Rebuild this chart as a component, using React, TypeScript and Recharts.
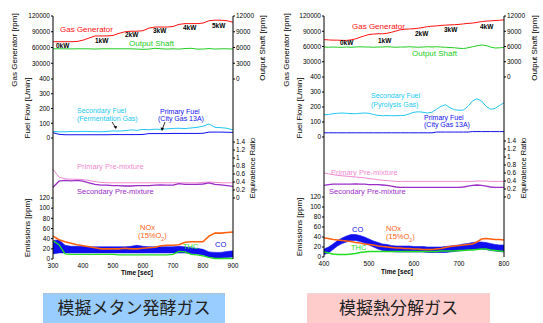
import React from 'react';
import { ComposedChart, Line, Area, XAxis, YAxis } from 'recharts';

const FONT = '"Liberation Sans", Arial, sans-serif';

// 模擬メタン発酵ガス (left column), time step 20 s
const timeA = [300, 320, 340, 360, 380, 400, 420, 440, 460, 480, 500, 520, 540, 560, 580, 600, 620, 640, 660, 680, 700, 720, 740, 760, 780, 800, 820, 840, 860, 880, 900];
const gasGenA = [71000, 71000, 71000, 71000, 71500, 74000, 78000, 82000, 82000, 82000, 83000, 87000, 90000, 91000, 91000, 92000, 97000, 99000, 99000, 99000, 100000, 104000, 105500, 105500, 105500, 106500, 111000, 112000, 112000, 111000, 108000];
const shaftA = [5750, 5750, 5750, 5730, 5750, 5750, 5750, 5700, 5750, 5750, 5750, 5750, 5750, 5750, 5700, 5650, 5700, 5850, 5750, 5700, 5750, 5700, 5800, 5850, 5700, 5700, 5800, 5700, 5750, 5750, 5700];
const secFuelA = [45, 42, 42, 44, 43, 45, 44, 43, 42, 45, 48, 47, 50, 55, 52, 58, 56, 60, 58, 62, 65, 66, 64, 68, 72, 80, 95, 72, 70, 66, 55];
const priFuelA = [36, 25, 22, 22, 22, 22, 22, 22, 22, 22, 23, 23, 23, 23, 23, 24, 30, 30, 30, 30, 31, 31, 31, 31, 31, 32, 40, 40, 40, 39, 38];
const priMixA = [0.72, 0.52, 0.48, 0.47, 0.47, 0.46, 0.44, 0.41, 0.39, 0.38, 0.38, 0.38, 0.38, 0.38, 0.38, 0.38, 0.38, 0.38, 0.38, 0.38, 0.38, 0.38, 0.38, 0.38, 0.38, 0.39, 0.4, 0.39, 0.38, 0.38, 0.38];
const secMixA = [0.27, 0.42, 0.44, 0.43, 0.44, 0.42, 0.38, 0.34, 0.32, 0.32, 0.31, 0.31, 0.3, 0.3, 0.31, 0.31, 0.31, 0.32, 0.33, 0.32, 0.32, 0.36, 0.34, 0.34, 0.34, 0.35, 0.38, 0.34, 0.33, 0.31, 0.29];
const noxA = [45, 38, 34, 31, 28, 26, 24, 22, 20, 20, 20, 20, 21, 20, 20, 21, 22, 23, 26, 27, 27, 28, 33, 34, 34, 34, 45, 51, 51, 52, 53];
const coLoA = [10, 12, 12, 12, 12, 12, 12, 12, 12, 12, 12, 12, 12, 12, 12, 12, 12, 12, 12, 12, 12, 12, 12, 11, 10, 8, 3, 2, 2, 3, 4];
const coHiA = [36, 38, 27, 25, 25, 25, 24, 24, 24, 24, 24, 24, 24, 25, 27, 25, 24, 24, 24, 24, 24, 25, 24, 22, 21, 19, 14, 13, 13, 15, 16];
const thcA = [36, 28, 10, 9, 9, 9, 9, 9, 9, 9, 9, 8, 8, 8, 8, 8, 8, 8, 8, 8, 9, 15, 14, 9, 8, 6, 3, 1, 1, 1, 1];

// 模擬熱分解ガス (right column), time step 10 s
const timeB = [400, 410, 420, 430, 440, 450, 460, 470, 480, 490, 500, 510, 520, 530, 540, 550, 560, 570, 580, 590, 600, 610, 620, 630, 640, 650, 660, 670, 680, 690, 700, 710, 720, 730, 740, 750, 760, 770, 780, 790, 800];
const gasGenB = [73500, 73000, 72500, 72500, 72000, 72000, 73000, 75000, 78000, 81000, 83500, 84500, 85000, 85000, 86000, 88000, 90500, 93000, 94000, 94500, 95000, 96000, 97500, 99000, 100000, 100500, 101500, 102000, 102500, 103000, 103500, 104500, 105500, 106000, 107500, 109000, 110000, 110500, 111000, 111500, 112500];
const shaftB = [5900, 5850, 5900, 5850, 5850, 5900, 5850, 5900, 5950, 5900, 5900, 5850, 5900, 5900, 5950, 5900, 5850, 5900, 5900, 5950, 5900, 5850, 5900, 5950, 5900, 5950, 5900, 5850, 5800, 5750, 5650, 5600, 5750, 5950, 6150, 6300, 6200, 5900, 5700, 5750, 5800];
const secFuelB = [148, 150, 155, 158, 160, 158, 156, 155, 158, 160, 158, 150, 144, 142, 143, 142, 142, 143, 145, 155, 165, 168, 165, 160, 165, 185, 205, 215, 195, 182, 178, 180, 205, 240, 255, 240, 205, 185, 190, 210, 228];
const priFuelB = [28, 28, 28, 28, 28, 28, 28, 28, 28, 28, 28, 28, 28, 28, 28, 28, 28, 28, 28, 28, 28, 28, 28, 28, 28, 33, 33, 33, 33, 33, 33, 33, 33, 36, 36, 36, 36, 36, 36, 36, 36];
const priMixB = [0.6, 0.58, 0.56, 0.54, 0.53, 0.52, 0.51, 0.5, 0.49, 0.48, 0.46, 0.45, 0.43, 0.42, 0.41, 0.4, 0.39, 0.39, 0.39, 0.39, 0.39, 0.39, 0.39, 0.39, 0.39, 0.39, 0.39, 0.39, 0.39, 0.39, 0.39, 0.39, 0.39, 0.39, 0.4, 0.4, 0.4, 0.39, 0.39, 0.39, 0.39];
const secMixB = [0.29, 0.31, 0.32, 0.32, 0.32, 0.32, 0.32, 0.33, 0.32, 0.32, 0.31, 0.31, 0.31, 0.3, 0.29, 0.27, 0.25, 0.24, 0.24, 0.24, 0.24, 0.24, 0.24, 0.24, 0.24, 0.24, 0.24, 0.24, 0.24, 0.24, 0.24, 0.25, 0.27, 0.29, 0.3, 0.29, 0.27, 0.25, 0.24, 0.24, 0.24];
const noxB = [38, 37, 35, 34, 33, 32, 31, 29, 28, 26, 25, 24, 22, 21, 20, 19, 18, 18, 17, 17, 16, 16, 15, 15, 15, 16, 17, 19, 21, 22, 23, 24, 25, 26, 30, 36, 37, 36, 35, 35, 34];
const coLoB = [5, 8, 15, 22, 27, 30, 33, 33, 31, 28, 24, 20, 16, 13, 12, 11, 10, 10, 10, 10, 10, 10, 10, 9, 9, 9, 9, 9, 10, 11, 12, 13, 14, 15, 16, 16, 15, 13, 12, 11, 10];
const coHiB = [16, 20, 26, 33, 38, 42, 45, 45, 43, 40, 36, 32, 29, 26, 25, 23, 22, 22, 22, 22, 21, 21, 21, 20, 20, 20, 20, 21, 22, 23, 24, 26, 27, 29, 30, 30, 29, 27, 25, 24, 24];
const thcB = [10, 8, 6, 5, 5, 5, 6, 7, 9, 10, 11, 11, 11, 11, 11, 11, 11, 11, 11, 11, 11, 11, 11, 11, 11, 11, 12, 12, 12, 12, 13, 13, 14, 14, 15, 16, 16, 14, 13, 12, 11];

// axis ticks
const ticksTimeA = [300, 400, 500, 600, 700, 800, 900];
const minorTimeA = [350, 450, 550, 650, 750, 850];
const ticksTimeB = [400, 500, 600, 700, 800];
const minorTimeB = [450, 550, 650, 750];
const ticksGasGen = [30000, 60000, 90000, 120000];
const ticksShaft = [0, 3000, 6000, 9000, 12000];
const ticksFuel = [0, 100, 200, 300, 400];
const ticksPhi = [0, 0.2, 0.4, 0.6, 0.8, 1, 1.2, 1.4];
const minorPhi = [0.1, 0.3, 0.5, 0.7, 0.9, 1.1, 1.3];
const ticksEm = [0, 20, 40, 60, 80, 100, 120];

const rowsA = timeA.map((t, i) => ({
  t, gg: gasGenA[i], os: shaftA[i], sf: secFuelA[i], pf: priFuelA[i],
  pm: priMixA[i], sm: secMixA[i], nox: noxA[i], co: [coLoA[i], coHiA[i]], thc: thcA[i],
}));
const rowsB = timeB.map((t, i) => ({
  t, gg: gasGenB[i], os: shaftB[i], sf: secFuelB[i], pf: priFuelB[i],
  pm: priMixB[i], sm: secMixB[i], nox: noxB[i], co: [coLoB[i], coHiB[i]], thc: thcB[i],
}));

const C = {
  red: '#ff1010',
  green: '#22cc22',
  cyan: '#22c8f0',
  blue: '#1010ee',
  pink: '#f08ad0',
  purple: '#9a2cc8',
  orange: '#ff6010',
  thc: '#22dd22',
};

const tickStyle = { fontSize: 6.5, fill: '#000', fontFamily: FONT };

type Ax = { domain: [number, number]; ticks?: number[]; show?: boolean; minor?: number[] };

interface PanelProps {
  left: number;
  top: number;
  h: number;
  data: any[];
  xDomain: [number, number];
  xMajor: number[];
  xMinor: number[];
  xLabels?: boolean;
  topLine?: boolean;
  yl: Ax;
  yr: Ax;
  children: React.ReactNode;
}

function Panel(p: PanelProps) {
  const mt = 6;
  const mb = p.xLabels ? 2 : 6;
  const xh = p.xLabels ? 12 : 0;
  return (
    <div style={{ position: 'absolute', left: p.left, top: p.top - mt }}>
      <ComposedChart width={272} height={p.h + mt + mb + xh} data={p.data} margin={{ top: mt, right: 0, bottom: mb, left: 0 }}>
        <XAxis xAxisId="x" dataKey="t" type="number" domain={p.xDomain} ticks={p.xMajor} interval={0} mirror height={0} tick={false} tickSize={4} stroke="#000" />
        <XAxis xAxisId="xm" dataKey="t" type="number" domain={p.xDomain} ticks={p.xMinor} interval={0} mirror height={0} tick={false} tickSize={2} axisLine={false} stroke="#000" />
        {p.xLabels && (
          <XAxis xAxisId="xl" dataKey="t" type="number" domain={p.xDomain} ticks={p.xMajor} interval={0} height={xh} tick={tickStyle} tickLine={false} axisLine={false} tickSize={3} tickMargin={1} />
        )}
        {p.topLine && (
          <XAxis xAxisId="top" dataKey="t" type="number" orientation="top" domain={p.xDomain} height={0} tick={false} tickLine={false} stroke="#000" />
        )}
        <YAxis yAxisId="L" type="number" width={53} domain={p.yl.domain} ticks={p.yl.ticks} interval={0}
          tick={p.yl.show ? tickStyle : false} tickLine={!!p.yl.ticks} tickSize={2} tickMargin={1} stroke="#000" />
        {p.yr.minor && (
          <YAxis yAxisId="Rm" type="number" orientation="right" width={0} mirror domain={p.yr.domain} ticks={p.yr.minor} interval={0}
            tick={false} axisLine={false} tickSize={2} stroke="#000" />
        )}
        <YAxis yAxisId="R" type="number" orientation="right" width={39} domain={p.yr.domain} ticks={p.yr.ticks} interval={0}
          tick={p.yr.show ? tickStyle : false} tickLine={!!p.yr.ticks} tickSize={2} tickMargin={1} stroke="#000" />
        {p.children}
      </ComposedChart>
    </div>
  );
}

const line = (key: string, color: string, axis = 'L', w = 1) => (
  <Line key={key} xAxisId="x" yAxisId={axis} dataKey={key} type="linear" stroke={color} strokeWidth={w} dot={false} isAnimationActive={false} />
);

function Txt({ x, y, c = '#000', s = 7.5, bold = false, children }: { x: number; y: number; c?: string; s?: number; bold?: boolean; children: React.ReactNode }) {
  return (
    <div style={{ position: 'absolute', left: x, top: y, transform: 'translateY(-50%)', color: c, fontSize: s, fontFamily: FONT, fontWeight: bold ? 700 : 400, whiteSpace: 'nowrap', lineHeight: 1 }}>
      {children}
    </div>
  );
}

function VLabel({ x, y, text, s = 8 }: { x: number; y: number; text: string; s?: number }) {
  return (
    <div style={{ position: 'absolute', left: x, top: y, transform: 'translate(-50%,-50%) rotate(-90deg)', fontSize: s, fontFamily: FONT, whiteSpace: 'nowrap', lineHeight: 1, color: '#000' }}>
      {text}
    </div>
  );
}

const O2 = () => (
  <span>(15%O<span style={{ fontSize: 5, verticalAlign: 'sub' }}>2</span>)</span>
);

function Column({ left, rows, xDomain, xMajor, xMinor, tops }: { left: number; rows: any[]; xDomain: [number, number]; xMajor: number[]; xMinor: number[]; tops: number[] }) {
  const common = { left, data: rows, xDomain, xMajor, xMinor };
  return (
    <>
      <Panel {...common} top={tops[0]} h={tops[1] - tops[0]} topLine
        yl={{ domain: [0, 120000], ticks: ticksGasGen, show: true }}
        yr={{ domain: [0, 12000], ticks: ticksShaft, show: true }}>
        {line('os', C.green, 'R')}
        {line('gg', C.red, 'L')}
      </Panel>
      <Panel {...common} top={tops[1]} h={tops[2] - tops[1]}
        yl={{ domain: [0, 400], ticks: ticksFuel, show: true }}
        yr={{ domain: [0, 400] }}>
        {line('sf', C.cyan)}
        {line('pf', C.blue)}
      </Panel>
      <Panel {...common} top={tops[2]} h={tops[3] - tops[2]}
        yl={{ domain: [0, 1.5] }}
        yr={{ domain: [0, 1.5], ticks: ticksPhi, show: true, minor: minorPhi }}>
        {line('pm', C.pink, 'R')}
        {line('sm', C.purple, 'R', 1.3)}
      </Panel>
      <Panel {...common} top={tops[3]} h={tops[4] - tops[3]} xLabels
        yl={{ domain: [0, 120], ticks: ticksEm, show: true }}
        yr={{ domain: [0, 120] }}>
        <Area xAxisId="x" yAxisId="L" dataKey="co" type="linear" stroke={C.blue} strokeWidth={0.6} fill={C.blue} fillOpacity={1} isAnimationActive={false} />
        {line('thc', C.thc, 'L', 1.3)}
        {line('nox', C.orange, 'L', 1.6)}
      </Panel>
    </>
  );
}

export default function App() {
  return (
    <div style={{ position: 'absolute', left: 0, top: 0, width: 543, height: 323, background: '#fff', overflow: 'hidden' }}>
      <Column left={0} rows={rowsA} xDomain={[300, 900]} xMajor={ticksTimeA} xMinor={minorTimeA} tops={[16, 79, 138, 198, 259]} />
      <Column left={271} rows={rowsB} xDomain={[400, 800]} xMajor={ticksTimeB} xMinor={minorTimeB} tops={[16, 77, 137, 197, 257]} />

      {/* axis titles, left column */}
      <VLabel x={15} y={50} text="Gas Generator [rpm]" />
      <VLabel x={263} y={48} text="Output Shaft [rpm]" />
      <VLabel x={28} y={108} text="Fuel Flow [L/min]" />
      <VLabel x={253} y={168} text="Equivalence Ratio" s={7.5} />
      <VLabel x={28} y={228} text="Emissions [ppm]" />
      <Txt x={121} y={273} s={6.5} bold>Time [sec]</Txt>

      {/* axis titles, right column */}
      <VLabel x={287} y={50} text="Gas Generator [rpm]" />
      <VLabel x={535} y={48} text="Output Shaft [rpm]" />
      <VLabel x={300} y={108} text="Fuel Flow [L/min]" />
      <VLabel x={524} y={168} text="Equivalence Ratio" s={7.5} />
      <VLabel x={300} y={227} text="Emissions [ppm]" />
      <Txt x={381} y={272} s={6.5} bold>Time [sec]</Txt>

      {/* in-plot labels, left */}
      <Txt x={60} y={30} c={C.red} s={8}>Gas Generator</Txt>
      <Txt x={56} y={46} s={6.5} bold>0kW</Txt>
      <Txt x={95} y={41} s={6.5} bold>1kW</Txt>
      <Txt x={125} y={35} s={6.5} bold>2kW</Txt>
      <Txt x={153} y={31} s={6.5} bold>3kW</Txt>
      <Txt x={183} y={28} s={6.5} bold>4kW</Txt>
      <Txt x={212} y={26} s={6.5} bold>5kW</Txt>
      <Txt x={129} y={44} c={C.green} s={8}>Output Shaft</Txt>
      <Txt x={77} y={110} c={C.cyan} s={7}>Secondary Fuel</Txt>
      <Txt x={77} y={118} c={C.cyan} s={7}>(Fermentation Gas)</Txt>
      <Txt x={160} y={111} c={C.blue} s={7}>Primary Fuel</Txt>
      <Txt x={158} y={118} c={C.blue} s={7}>(City Gas 13A)</Txt>
      <Txt x={77} y={167} c={C.pink} s={7.5}>Primary Pre-mixture</Txt>
      <Txt x={77} y={192} c={C.purple} s={7.5}>Secondary Pre-mixture</Txt>
      <Txt x={140} y={228} c={C.orange} s={7.5}>NOx</Txt>
      <Txt x={138} y={237} c={C.orange} s={7.5}><O2 /></Txt>
      <Txt x={183} y={247} c={C.thc} s={7.5}>THC</Txt>
      <Txt x={215} y={245} c={C.blue} s={7.5}>CO</Txt>

      {/* in-plot labels, right */}
      <Txt x={352} y={27} c={C.red} s={8}>Gas Generator</Txt>
      <Txt x={340} y={43} s={6.5} bold>0kW</Txt>
      <Txt x={378} y={41} s={6.5} bold>1kW</Txt>
      <Txt x={415} y={34} s={6.5} bold>2kW</Txt>
      <Txt x={444} y={30} s={6.5} bold>3kW</Txt>
      <Txt x={480} y={27} s={6.5} bold>4kW</Txt>
      <Txt x={412} y={54} c={C.green} s={8}>Output Shaft</Txt>
      <Txt x={371} y={95} c={C.cyan} s={7}>Secondary Fuel</Txt>
      <Txt x={371} y={104} c={C.cyan} s={7}>(Pyrolysis Gas)</Txt>
      <Txt x={424} y={117} c={C.blue} s={7}>Primary Fuel</Txt>
      <Txt x={424} y={124} c={C.blue} s={7}>(City Gas 13A)</Txt>
      <Txt x={331} y={173} c={C.pink} s={7.5}>Primary Pre-mixture</Txt>
      <Txt x={329} y={192} c={C.purple} s={7.5}>Secondary Pre-mixture</Txt>
      <Txt x={352} y={230} c={C.blue} s={7.5}>CO</Txt>
      <Txt x={386} y={229} c={C.orange} s={7.5}>NOx</Txt>
      <Txt x={386} y={238} c={C.orange} s={7.5}><O2 /></Txt>
      <Txt x={351} y={248} c={C.thc} s={7.5}>THC</Txt>

      {/* pointer arrows in the fuel-flow panel */}
      <svg width={543} height={323} style={{ position: 'absolute', left: 0, top: 0, pointerEvents: 'none' }}>
        <line x1={112} y1={122} x2={116} y2={128} stroke="#000" strokeWidth={0.8} />
        <path d="M116,129 L113.5,126.5 L117,126 Z" fill="#000" />
        <line x1={165} y1={122} x2={162} y2={130} stroke="#000" strokeWidth={0.8} />
        <path d="M162,131 L160.5,127.5 L164,128 Z" fill="#000" />
      </svg>

      {/* captions */}
      <div style={{ position: 'absolute', left: 43, top: 293, width: 182, height: 32, background: '#99ccff', borderTop: '1px dotted #bbb', fontFamily: '"Noto Sans CJK JP", sans-serif', fontSize: 17, lineHeight: '26px', textAlign: 'center', color: '#222' }}>
        模擬メタン発酵ガス
      </div>
      <div style={{ position: 'absolute', left: 307, top: 293, width: 183, height: 32, background: '#ffcccc', borderTop: '1px dotted #ddd', fontFamily: '"Noto Sans CJK JP", sans-serif', fontSize: 17, lineHeight: '26px', textAlign: 'center', color: '#222' }}>
        模擬熱分解ガス
      </div>
    </div>
  );
}
